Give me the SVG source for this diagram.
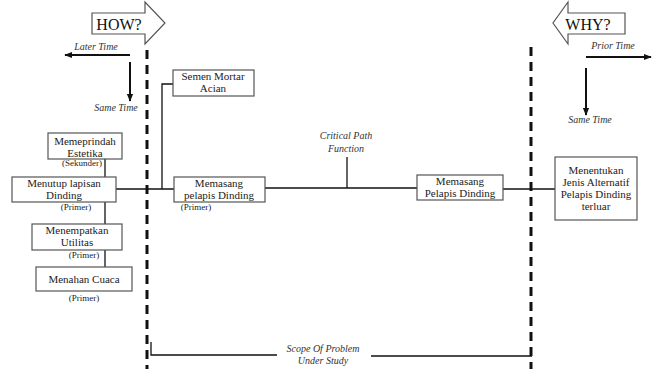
<svg xmlns="http://www.w3.org/2000/svg" width="655" height="369" viewBox="0 0 655 369">
<style>
text{font-family:"Liberation Serif","Times New Roman","DejaVu Serif",serif}
.box{fill:#fff;stroke:#555;stroke-width:1.2}
.t{font-size:11px;fill:#222;text-anchor:middle}
.s{font-size:9px;fill:#222;text-anchor:middle}
.i{font-size:10px;font-style:italic;fill:#333;text-anchor:middle}
.big{font-size:16px;fill:#111;text-anchor:middle}
.ln{stroke:#111;stroke-width:1.3;fill:none}
.dash{stroke:#111;stroke-width:3;stroke-dasharray:9,6;fill:none}
.ar{stroke:#111;stroke-width:2;fill:none}
</style>
<defs>
<marker id="ah" viewBox="0 0 10 10" refX="9" refY="5" markerWidth="4" markerHeight="4" orient="auto">
<path d="M0,1 L10,5 L0,9 z" fill="#111"/>
</marker>
</defs>
<rect width="655" height="369" fill="#fff"/>

<g id="how">
<path d="M92,13 H145 V2 L165,23 L145,44 V34 H92 Z" fill="#fff" stroke="#555" stroke-width="1.2"/>
<text class="big" x="119" y="30">HOW?</text>
</g>
<g id="why">
<path d="M625,13 H568 V2 L553,23 L568,44 V34 H625 Z" fill="#fff" stroke="#555" stroke-width="1.2"/>
<text class="big" x="588" y="30">WHY?</text>
</g>

<g id="time-left">
<line class="ar" x1="130" y1="55" x2="65" y2="55" marker-end="url(#ah)"/>
<line class="ar" x1="130" y1="62" x2="130" y2="101" marker-end="url(#ah)"/>
<text class="i" x="96" y="50">Later Time</text>
<text class="i" x="116" y="111">Same Time</text>
</g>
<g id="time-right">
<line class="ar" x1="586" y1="57" x2="651" y2="57" marker-end="url(#ah)"/>
<line class="ar" x1="586" y1="68" x2="586" y2="115" marker-end="url(#ah)"/>
<text class="i" x="613" y="49">Prior Time</text>
<text class="i" x="590" y="123">Same Time</text>
</g>

<g id="scope">
<line class="dash" x1="147" y1="50" x2="147" y2="369"/>
<line class="dash" x1="531" y1="47" x2="531" y2="369"/>
<path class="ln" d="M151,342 V355 H277"/>
<line class="ln" x1="371" y1="356" x2="532" y2="356"/>
<text class="i" x="323" y="352">Scope Of Problem</text>
<text class="i" x="323" y="364">Under Study</text>
</g>

<g id="connectors">
<line class="ln" x1="116" y1="189" x2="174" y2="189"/>
<path class="ln" d="M173,84 H162 V189"/>
<line class="ln" x1="265" y1="188" x2="417" y2="188"/>
<line class="ln" x1="347" y1="157" x2="347" y2="188"/>
<line class="ln" x1="503" y1="189" x2="555" y2="189"/>
<line class="ln" x1="105" y1="159" x2="105" y2="177"/>
<line class="ln" x1="105" y1="202" x2="105" y2="224"/>
<line class="ln" x1="105" y1="250" x2="105" y2="267"/>
<text class="i" x="346" y="139">Critical Path</text>
<text class="i" x="346" y="152">Function</text>
</g>

<g id="semen">
<rect class="box" x="173" y="70" width="81" height="26"/>
<text class="t" x="213" y="80">Semen Mortar</text>
<text class="t" x="213" y="92">Acian</text>
</g>
<g id="memasang1">
<rect class="box" x="174" y="177" width="91" height="25"/>
<text class="t" x="219" y="187">Memasang</text>
<text class="t" x="219" y="199">pelapis Dinding</text>
<text class="s" x="196" y="210">(Primer)</text>
</g>
<g id="memasang2">
<rect class="box" x="417" y="175" width="86" height="25"/>
<text class="t" x="460" y="185">Memasang</text>
<text class="t" x="460" y="197">Pelapis Dinding</text>
</g>
<g id="menentukan">
<rect class="box" x="555" y="157" width="82" height="63"/>
<text class="t" x="596" y="174">Menentukan</text>
<text class="t" x="596" y="186">Jenis Alternatif</text>
<text class="t" x="596" y="198">Pelapis Dinding</text>
<text class="t" x="596" y="210">terluar</text>
</g>
<g id="estetika">
<rect class="box" x="48" y="133" width="74" height="26"/>
<text class="t" x="85" y="145">Memeprindah</text>
<text class="t" x="85" y="157">Estetika</text>
<text class="s" x="82" y="166">(Sekunder)</text>
</g>
<g id="menutup">
<rect class="box" x="12" y="177" width="104" height="25"/>
<text class="t" x="64" y="187">Menutup lapisan</text>
<text class="t" x="64" y="199">Dinding</text>
<text class="s" x="76" y="210">(Primer)</text>
</g>
<g id="utilitas">
<rect class="box" x="32" y="224" width="90" height="26"/>
<text class="t" x="77" y="234">Menempatkan</text>
<text class="t" x="77" y="246">Utilitas</text>
<text class="s" x="84" y="258">(Primer)</text>
</g>
<g id="cuaca">
<rect class="box" x="36" y="267" width="96" height="24"/>
<text class="t" x="84" y="283">Menahan Cuaca</text>
<text class="s" x="84" y="301">(Primer)</text>
</g>
</svg>
